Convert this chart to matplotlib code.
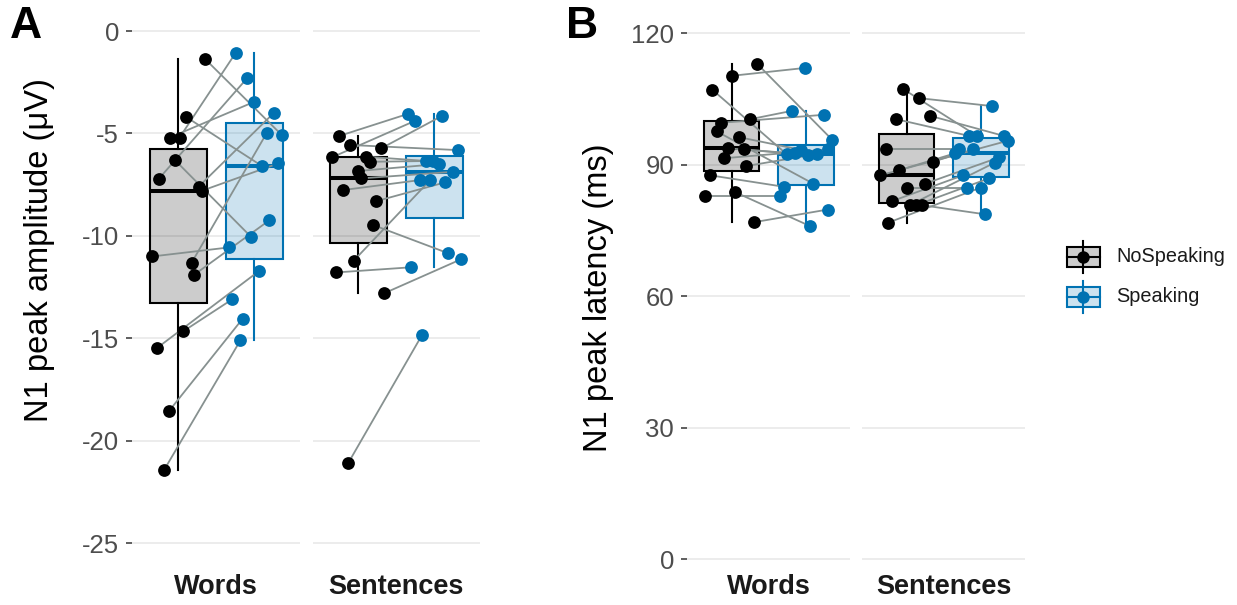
import matplotlib
matplotlib.use("Agg")
import matplotlib.pyplot as plt
from matplotlib.patches import Rectangle
from matplotlib.lines import Line2D

plt.rcParams["font.family"] = ["Liberation Sans", "DejaVu Sans"]
plt.rcParams["axes.unicode_minus"] = False

W, H = 1237, 605
C_NO = "#000000"     # NoSpeaking
C_SP = "#0072B2"     # Speaking
C_PAIR = "#879190"   # participant lines
C_GRID = "#EBEBEB"

tasks = ["Words", "Sentences"]
conditions = ["NoSpeaking", "Speaking"]

# N1 peak amplitude (uV); entry i is the same participant in both conditions
amp_words_nosp = [-1.38, -4.2, -5.2, -5.2, -6.3, -7.2, -7.6, -7.8, -11.0, -11.3,
                  -11.9, -14.65, -15.45, -18.55, -21.4]
amp_words_sp = [-5.09, -6.6, -3.46, -1.06, -10.04, -2.3, -4.0, -6.46, -10.56, -4.96,
                -9.24, -13.1, -11.7, -14.04, -15.1]
amp_sent_nosp = [-5.12, -5.56, -5.73, -6.17, -6.13, -6.38, -6.83, -7.19, -7.76, -8.30,
                 -9.47, -11.21, -11.78, -12.80, -21.07]
amp_sent_sp = [-4.05, -5.81, -4.13, -4.38, -6.34, -6.34, -6.49, -6.87, -7.27, -7.38,
               -10.85, -7.27, -11.53, -11.13, -14.84]

# N1 peak latency (ms)
lat_words_nosp = [113.1, 110.3, 107.1, 100.4, 99.6, 97.6, 96.3, 93.75, 93.5, 91.5,
                  89.7, 87.6, 83.8, 82.8, 76.9]
lat_words_sp = [95.65, 112.1, 92.45, 102.3, 101.4, 85.7, 93.4, 92.6, 92.2, 93.5,
                92.45, 85.0, 76.0, 82.8, 79.8]
lat_sent_nosp = [107.3, 105.2, 101.2, 100.4, 93.5, 90.7, 88.8, 87.6, 85.7, 84.8,
                 81.7, 80.8, 80.8, 80.8, 76.8]
lat_sent_sp = [96.6, 103.4, 96.6, 96.6, 93.5, 93.5, 92.6, 95.5, 91.7, 84.8,
               87.6, 90.5, 86.9, 78.7, 84.8]

# horizontal jitter of each point (category units)
jit_amp_words_nosp = [0.36, 0.11, -0.11, 0.02, -0.04, -0.25, 0.27, 0.31, -0.34, 0.18,
                      0.21, 0.07, -0.27, -0.12, -0.18]
jit_amp_words_sp = [0.37, 0.11, 0.0, -0.24, -0.04, -0.09, 0.26, 0.32, -0.33, 0.17,
                    0.20, -0.29, 0.07, -0.15, -0.18]
jit_amp_sent_nosp = [-0.25, -0.11, 0.30, -0.35, 0.10, 0.15, 0.0, 0.04, -0.20, 0.24,
                     0.20, -0.06, -0.29, 0.34, -0.13]
jit_amp_sent_sp = [-0.35, 0.31, 0.11, -0.25, -0.11, -0.01, 0.06, 0.25, -0.18, 0.15,
                   0.19, -0.05, -0.31, 0.36, -0.16]
jit_lat_words_nosp = [0.34, 0.0, -0.26, 0.25, -0.14, -0.20, 0.10, -0.05, 0.17, -0.10,
                      0.19, -0.29, 0.04, -0.36, 0.30]
jit_lat_words_sp = [0.36, -0.01, -0.26, -0.19, 0.24, 0.10, -0.06, -0.15, 0.03, 0.30,
                    0.15, -0.30, 0.06, -0.35, 0.30]
jit_lat_sent_nosp = [-0.05, 0.17, 0.31, -0.14, -0.28, 0.35, -0.10, -0.36, 0.25, 0.0,
                     -0.20, 0.04, 0.13, 0.20, -0.25]
jit_lat_sent_sp = [-0.05, 0.15, 0.31, -0.16, -0.30, -0.10, -0.35, 0.37, 0.25, -0.19,
                   -0.24, 0.19, 0.11, 0.06, 0.0]

amp_ticks = [0, -5, -10, -15, -20, -25]
lat_ticks = [0, 30, 60, 90, 120]


def px_rect(x0, y0, x1, y1):
    """pixel box (top-left origin) -> figure fraction [l, b, w, h]"""
    return [x0 / W, 1 - y1 / H, (x1 - x0) / W, (y1 - y0) / H]


def facet(ax, nosp, sp, jn, js, ylim, ticks, show_axis):
    colors = [C_NO, C_SP]
    bp = ax.boxplot([nosp, sp], positions=[1, 2], widths=0.75, patch_artist=True,
                    showcaps=False, showfliers=False, whis=1.5, zorder=1)
    for i, c in enumerate(colors):
        rgb = matplotlib.colors.to_rgb(c)
        bp["boxes"][i].set(facecolor=(*rgb, 0.2), edgecolor=c, linewidth=1.5)
        bp["medians"][i].set(color=c, linewidth=2.9, solid_capstyle="butt")
        for wl in bp["whiskers"][2 * i:2 * i + 2]:
            wl.set(color=c, linewidth=1.5)

    for a, b, ja, jb in zip(nosp, sp, jn, js):
        ax.plot([1 + ja, 2 + jb], [a, b], color=C_PAIR, lw=1.3, zorder=2)
    ax.plot([1 + j for j in jn], nosp, "o", color=C_NO, ms=9.2, mew=0, zorder=3)
    ax.plot([2 + j for j in js], sp, "o", color=C_SP, ms=9.2, mew=0, zorder=3)

    ax.set_xlim(0.4, 2.6)
    ax.set_ylim(*ylim)
    ax.set_yticks(ticks)
    ax.set_yticklabels([str(t) for t in ticks])
    ax.set_xticks([])
    ax.yaxis.grid(True, color=C_GRID, lw=1.3)
    ax.set_axisbelow(True)
    for s in ax.spines.values():
        s.set_visible(False)
    if show_axis:
        ax.tick_params(axis="y", length=4.5, width=1.1, color="#333333",
                       labelcolor="#4D4D4D", labelsize=18.5, pad=5)
    else:
        ax.tick_params(axis="y", left=False, labelleft=False)


fig = plt.figure(figsize=(W / 100, H / 100), dpi=100)

panels = [
    # (x-range of each facet in px, y-range in px, data, jitter, ylim, ticks)
    ([(132.4, 299.6), (312.7, 479.6)], (5.4, 569),
     [(amp_words_nosp, amp_words_sp), (amp_sent_nosp, amp_sent_sp)],
     [(jit_amp_words_nosp, jit_amp_words_sp), (jit_amp_sent_nosp, jit_amp_sent_sp)],
     (-26.25, 1.25), amp_ticks),
    ([(687.3, 850.2), (862.3, 1025.2)], (7, 566),
     [(lat_words_nosp, lat_words_sp), (lat_sent_nosp, lat_sent_sp)],
     [(jit_lat_words_nosp, jit_lat_words_sp), (jit_lat_sent_nosp, jit_lat_sent_sp)],
     (-1.53, 126.0), lat_ticks),
]

for xr, yr, data, jits, ylim, ticks in panels:
    for k, ((x0, x1), (nosp, sp), (jn, js)) in enumerate(zip(xr, data, jits)):
        ax = fig.add_axes(px_rect(x0, yr[0], x1, yr[1]))
        facet(ax, nosp, sp, jn, js, ylim, ticks, show_axis=(k == 0))
        fig.text((x0 + x1) / 2 / W, 1 - 587 / H, tasks[k], ha="center", va="center",
                 fontsize=19.5, fontweight="bold", color="#1A1A1A")

# axis titles and panel letters
fig.text(40 / W, 1 - 250 / H, "N1 peak amplitude (\u03bcV)", rotation=90,
         ha="center", va="center", fontsize=23.5)
fig.text(599 / W, 1 - 298 / H, "N1 peak latency (ms)", rotation=90,
         ha="center", va="center", fontsize=23.5)
fig.text(10 / W, 1 - 26 / H, "A", ha="left", va="center", fontsize=32, fontweight="bold")
fig.text(566 / W, 1 - 26 / H, "B", ha="left", va="center", fontsize=32, fontweight="bold")

# legend: box glyph with whisker, median and point
lg = fig.add_axes([0, 0, 1, 1], facecolor="none")
lg.set_xlim(0, W)
lg.set_ylim(H, 0)
lg.axis("off")
for i, (lab, c) in enumerate(zip(conditions, [C_NO, C_SP])):
    cy = 257 + 40 * i
    rgb = matplotlib.colors.to_rgb(c)
    lg.add_line(Line2D([1083, 1083], [cy - 16, cy + 16], color=c, lw=1.5))
    lg.add_patch(Rectangle((1067, cy - 10), 33, 20, facecolor=(*rgb, 0.2),
                           edgecolor=c, lw=1.5))
    lg.add_line(Line2D([1067, 1100], [cy, cy], color=c, lw=1.5))
    lg.plot([1083], [cy], "o", color=c, ms=9, mew=0)
    lg.text(1116, cy, lab, ha="left", va="center", fontsize=14.3, color="#1A1A1A")

fig.savefig("out.png", dpi=100)
